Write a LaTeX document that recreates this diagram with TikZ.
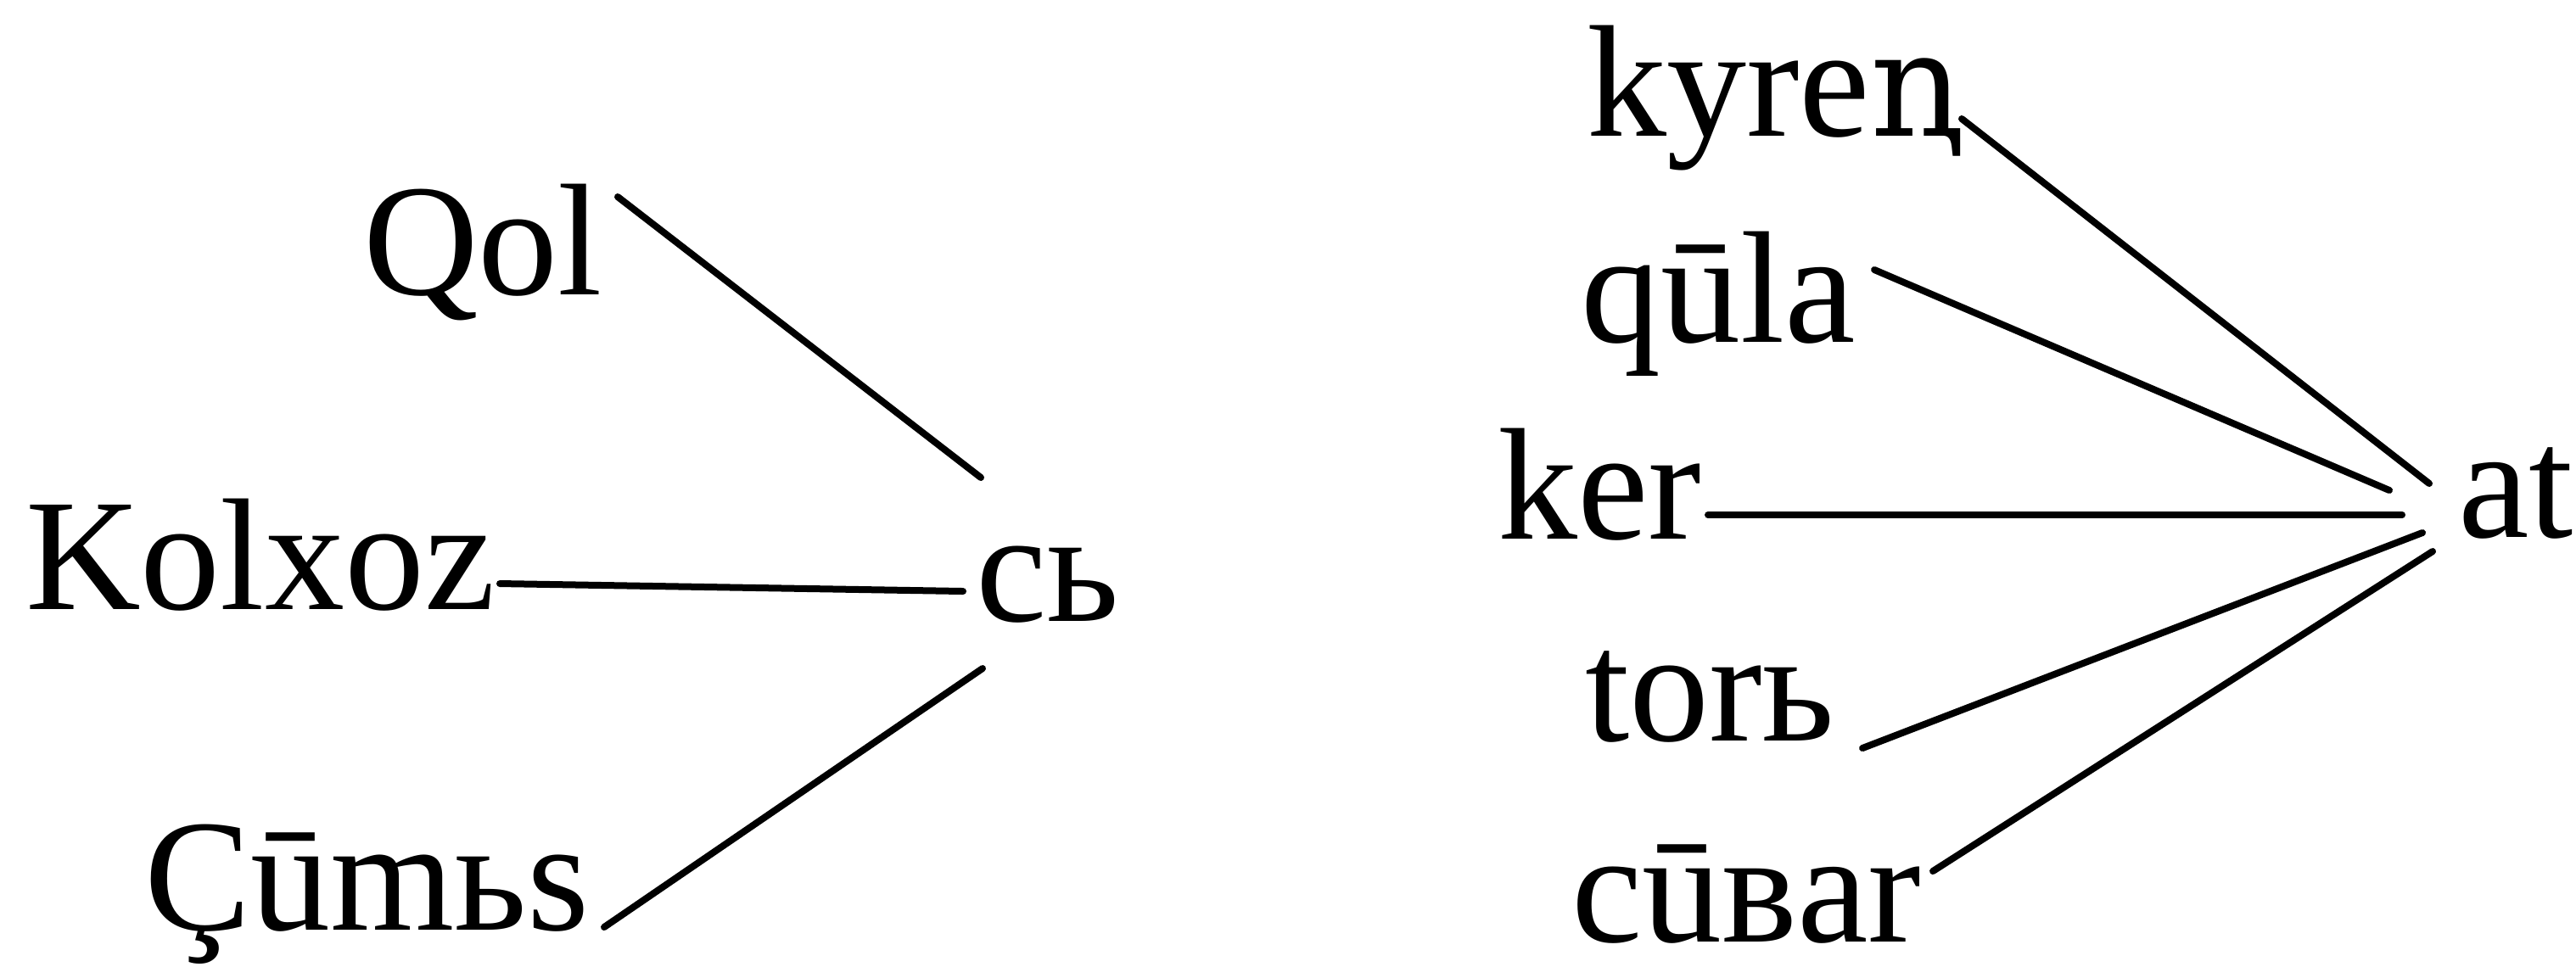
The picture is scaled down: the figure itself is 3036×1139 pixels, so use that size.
\documentclass[tikz,border=0pt]{standalone}
\usepackage{fontspec}
\setmainfont{Liberation Serif}
\newfontfamily\dvserif{DejaVu Serif}
\begin{document}
\begin{tikzpicture}[x=0.25pt,y=-0.25pt,
  word/.style={inner sep=0pt, outer sep=0pt, anchor=base west, font=\fontsize{47}{56}\selectfont},
  link/.style={line width=2pt, line cap=round, black}]
\useasboundingbox (0,0) rectangle (3036,1139);
% left group
\node[word] (qol)    at (428,347)  {Qol};
\node[word] (kolxoz) at (30,718)   {Kolxoz};
\node[word] (cumbs)  at (170,1096) {Çūmьs};
\node[word] (cb)     at (1150,732) {cь};
% right group
\node[word] (kyren)  at (1870,160) {kyre{\dvserif\fontsize{43}{50}\selectfont ꞑ}};
\node[word] (qula)   at (1863,403) {qūla};
\node[word] (ker)    at (1765,635) {ker};
\node[word] (torb)   at (1868,873) {torь};
\node[word] (cuvar)  at (1852,1110) {cūвar};
\node[word] (atw)    at (2897,633) {at};
% connectors
\draw[link] ([shift={(300,-115)}]qol.base west) -- ([shift={(6,-169)}]cb.base west);
\draw[link] ([shift={(559,-30)}]kolxoz.base west) -- ([shift={(-15,-35)}]cb.base west);
\draw[link] ([shift={(542,-3)}]cumbs.base west) -- ([shift={(8,56)}]cb.base west);
\draw[link] ([shift={(442,-20)}]kyren.base west) -- ([shift={(-34,-63)}]atw.base west);
\draw[link] ([shift={(346,-85)}]qula.base west) -- ([shift={(-81,-55)}]atw.base west);
\draw[link] ([shift={(248,-28)}]ker.base west) -- ([shift={(-66,-26)}]atw.base west);
\draw[link] ([shift={(327,9)}]torb.base west) -- ([shift={(-42,-5)}]atw.base west);
\draw[link] ([shift={(426,-83)}]cuvar.base west) -- ([shift={(-30,17)}]atw.base west);
\end{tikzpicture}
\end{document}
